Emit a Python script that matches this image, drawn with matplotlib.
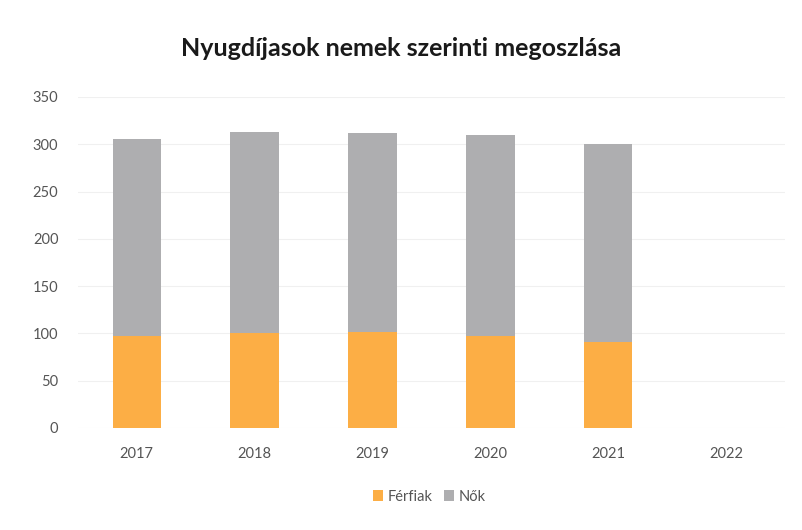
import numpy as np
import matplotlib
matplotlib.use('Agg')
import matplotlib.pyplot as plt

plt.rcParams['font.family'] = ['Lato', 'DejaVu Sans']

years = ['2017', '2018', '2019', '2020', '2021', '2022']
ferfiak = [97, 100, 101, 97, 91, 0]
nok = [209, 213, 211, 213, 209, 0]

orange = '#FCAE45'
grey = '#AEAEB0'

fig = plt.figure(figsize=(8.02, 5.30), dpi=100)
ax = fig.add_axes([0.097, 0.1925, 0.882, 0.6245])

x = np.arange(len(years))
ax.bar(x, ferfiak, width=0.41, color=orange, label='Férfiak', zorder=3)
ax.bar(x, nok, width=0.41, bottom=ferfiak, color=grey, label='Nők', zorder=3)

ax.set_xlim(-0.5, len(years) - 0.5)
ax.set_ylim(0, 350)
ax.set_yticks(range(0, 351, 50))
ax.set_xticks(x)
ax.set_xticklabels(years)
ax.grid(axis='y', color='#f0f0f0', linewidth=0.8, zorder=0)
for s in ax.spines.values():
    s.set_visible(False)
ax.tick_params(length=0, labelsize=10.5, colors='#555555')
ax.tick_params(axis='x', pad=14)
ax.tick_params(axis='y', pad=14)

fig.suptitle('Nyugdíjasok nemek szerinti megoszlása', y=0.93, fontsize=18,
             fontweight='bold', color='#1a1a1a')
fig.legend(loc='center', bbox_to_anchor=(0.535, 0.063), ncol=2, frameon=False,
           fontsize=10.5, handlelength=0.7, handleheight=0.7, columnspacing=0.8,
           handletextpad=0.3, labelcolor='#555555')

fig.savefig('out.png', dpi=100, facecolor='white')
